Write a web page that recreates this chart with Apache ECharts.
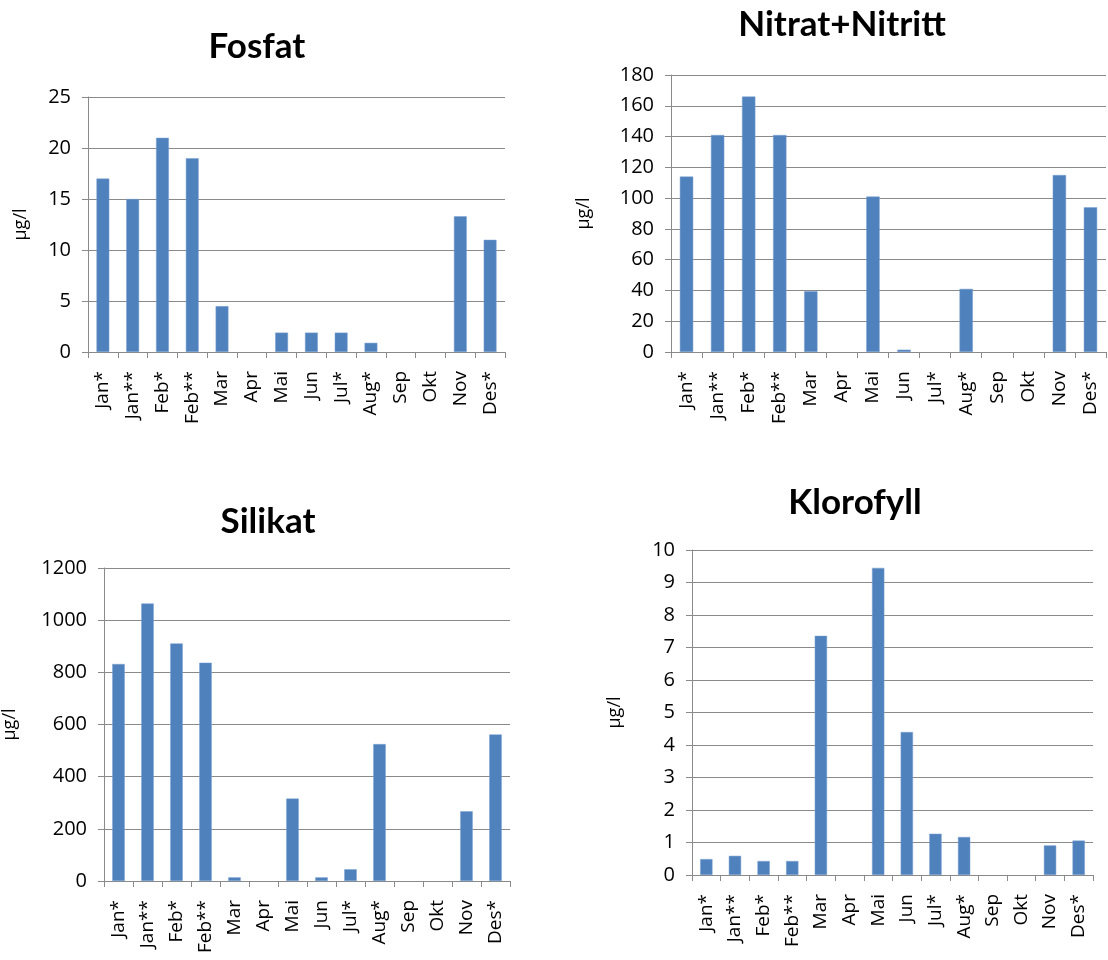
<!DOCTYPE html>
<html>
<head>
<meta charset="utf-8">
<script src="https://cdn.jsdelivr.net/npm/echarts@6/dist/echarts.min.js"></script>
<style>
html,body{margin:0;padding:0;background:#fff;}
#chart{width:1108px;height:960px;}
</style>
</head>
<body>
<div id="chart"></div>
<script>
const categories = ['Jan*','Jan**','Feb*','Feb**','Mar','Apr','Mai','Jun','Jul*','Aug*','Sep','Okt','Nov','Des*'];
const titles = ['Fosfat','Nitrat+Nitritt','Silikat','Klorofyll'];
const unitLabel = 'µg/l';
const fosfat   = [17.0, 15.0, 21.0, 19.0, 4.5, null, 1.9, 1.9, 1.9, 0.9, null, null, 13.3, 11.0];
const nitrat   = [114, 141, 166, 141, 39.5, null, 101, 1.5, null, 41, null, null, 115, 94];
const silikat  = [832, 1064, 911, 837, 14, null, 316, 14, 45, 525, null, null, 267, 562];
const klorofyll= [0.49, 0.59, 0.43, 0.43, 7.36, null, 9.45, 4.40, 1.27, 1.17, null, null, 0.91, 1.06];
const yMax = [25, 180, 1200, 10];
const yStep = [5, 20, 200, 1];

const seriesData = [fosfat, nitrat, silikat, klorofyll];
const grids = [
  {left: 88, top: 97, right: 603, bottom: 608},
  {left: 671, top: 75, right: 2, bottom: 608},
  {left: 103, top: 568, right: 598, bottom: 79},
  {left: 692, top: 550, right: 15, bottom: 85}
];
const nameGaps = [58, 78, 85, 68];
const titlePos = [[257, 47], [842, 25], [268, 522], [855, 503]];

const gray = '#8a8a8a';
const font = '"Open Sans", "Segoe UI", sans-serif';

const option = {
  animation: false,
  backgroundColor: '#fff',
  graphic: titles.map((t, i) => ({
    type: 'text',
    x: titlePos[i][0], y: titlePos[i][1],
    style: {
      text: t, fill: '#000',
      font: 'bold 35px Lato, "Open Sans", sans-serif',
      textAlign: 'center', textVerticalAlign: 'middle'
    }
  })),
  grid: grids.map(g => Object.assign({containLabel: false}, g)),
  xAxis: grids.map((g, i) => ({
    type: 'category', gridIndex: i, data: categories,
    axisLine: {lineStyle: {color: gray, width: 1}},
    axisTick: {show: true, length: 6, lineStyle: {color: gray}},
    axisLabel: {rotate: 90, color: '#000', fontSize: 19, fontFamily: font, margin: 19, interval: 0}
  })),
  yAxis: grids.map((g, i) => ({
    type: 'value', gridIndex: i, min: 0, max: yMax[i], interval: yStep[i],
    name: unitLabel, nameLocation: 'middle', nameRotate: 90, nameGap: nameGaps[i],
    nameTextStyle: {color: '#000', fontSize: 18, fontFamily: font},
    axisLine: {show: true, lineStyle: {color: gray, width: 1}},
    axisTick: {show: true, length: 6, lineStyle: {color: gray}},
    axisLabel: {color: '#000', fontSize: 20, fontFamily: font, margin: 17,
      formatter: v => String(v)},
    splitLine: {show: true, lineStyle: {color: gray, width: 1}}
  })),
  series: seriesData.map((d, i) => ({
    type: 'bar', xAxisIndex: i, yAxisIndex: i, data: d,
    barWidth: '43%',
    itemStyle: {color: '#4F81BD', borderColor: '#7aa0d0', borderWidth: 0.5}
  }))
};

const chart = echarts.init(document.getElementById('chart'), null, {renderer: 'canvas'});
chart.setOption(option);
</script>
</body>
</html>
